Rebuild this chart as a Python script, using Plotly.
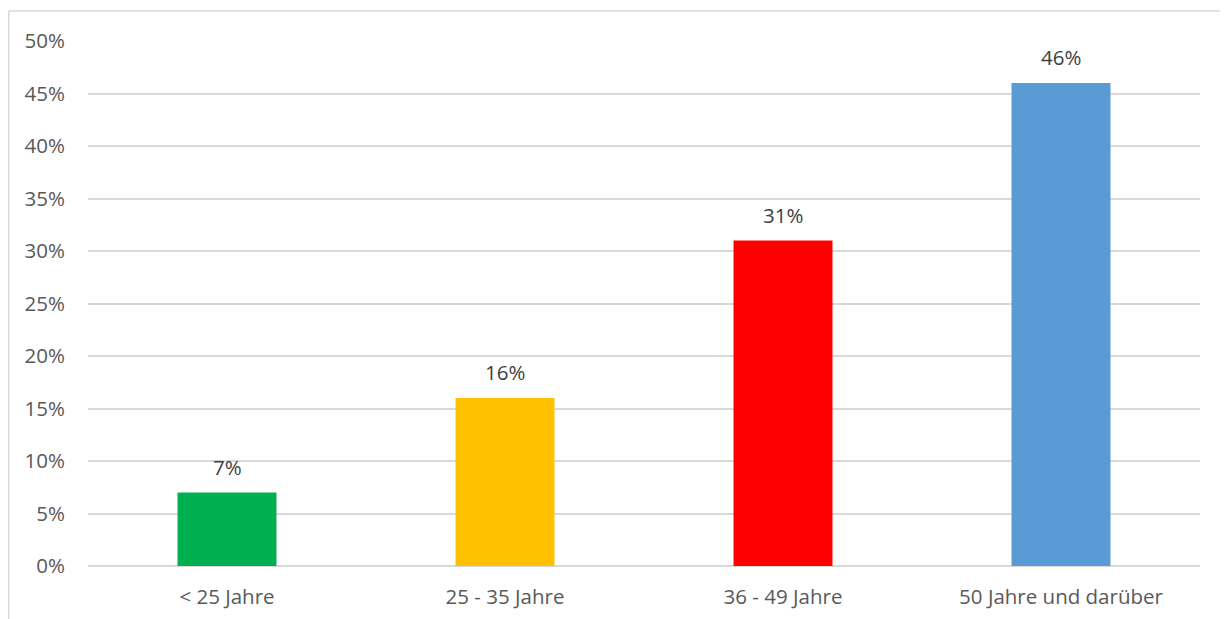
import plotly.graph_objects as go

categories = ["< 25 Jahre", "25 - 35 Jahre", "36 - 49 Jahre", "50 Jahre und darüber"]
values = [7, 16, 31, 46]
bar_colors = ["#00B050", "#FFC000", "#FF0000", "#5B9BD5"]
y_ticks = [0, 5, 10, 15, 20, 25, 30, 35, 40, 45, 50]
y_tick_labels = [f"{v}%" for v in y_ticks]

font_family = "Open Sans, DejaVu Sans, sans-serif"
FS = 20.5

fig = go.Figure()
fig.add_trace(go.Bar(
    x=categories, y=values,
    marker=dict(color=bar_colors, line=dict(width=0)),
    width=0.356,
    hoverinfo="skip",
))

for c, v in zip(categories, values):
    fig.add_annotation(x=c, y=v, text=f"{v}%", showarrow=False,
                       yanchor="bottom", yshift=10,
                       font=dict(family=font_family, size=FS, color="#404040"))

# page has an 8px body margin; compensate
L, R, T, B = 80, 28, 33, 53
W, H = 1220, 611
pw, ph = W - L - R, H - T - B

fx0 = (0.75 - L) / pw
fx1 = (W + 5 - L) / pw
fy_top = 1 + (T - 3) / ph
fy_bot = -(H + 5 - T - ph) / ph
frame = dict(color="#D9D9D9", width=1.5)
fig.add_shape(type="line", xref="paper", yref="paper",
              x0=fx0, x1=fx1, y0=fy_top, y1=fy_top, line=frame, layer="below")
fig.add_shape(type="line", xref="paper", yref="paper",
              x0=fx0, x1=fx0, y0=fy_bot, y1=fy_top, line=frame, layer="below")

fig.update_layout(
    width=W, height=H,
    margin=dict(l=L, r=R, t=T, b=B, autoexpand=False),
    paper_bgcolor="white", plot_bgcolor="white",
    showlegend=False,
    font=dict(family=font_family, size=FS, color="#595959"),
    bargap=0.644,
)
fig.update_xaxes(showgrid=False, zeroline=False, showline=False, automargin=False,
                 ticks="", ticklabelstandoff=16,
                 tickfont=dict(size=FS, color="#595959"))
fig.update_yaxes(range=[0, 50], tickvals=y_ticks, ticktext=y_tick_labels,
                 automargin=False,
                 showgrid=True, gridcolor="#D9D9D9", gridwidth=1.5,
                 zeroline=True, zerolinecolor="#D9D9D9", zerolinewidth=1.5,
                 showline=False, ticks="", ticklabelstandoff=22,
                 tickfont=dict(size=FS, color="#595959"))

fig.write_html("out.html")
